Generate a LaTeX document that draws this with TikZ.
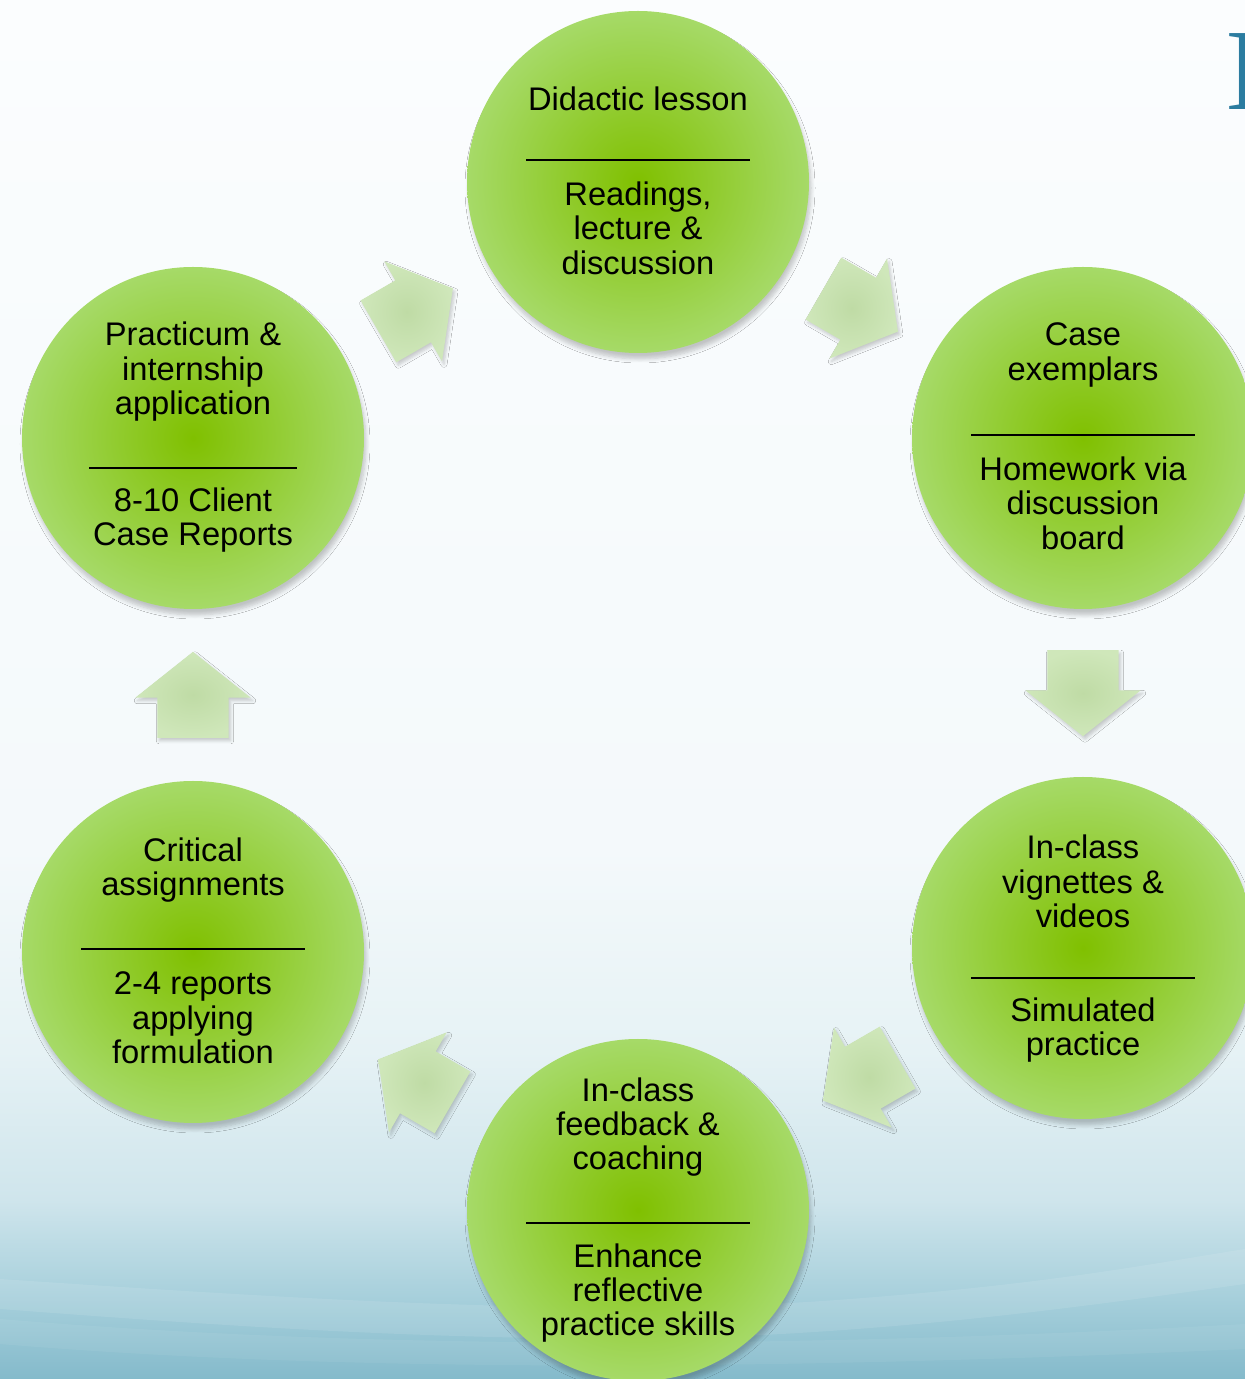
\documentclass[tikz,border=0pt]{standalone}
\usepackage{fontspec}
\setmainfont{Liberation Sans}
\newfontfamily\headserif{Liberation Serif}
\usetikzlibrary{calc, shapes.arrows, shadows.blur}

\definecolor{stagecore}{HTML}{80C000}
\definecolor{stageedge}{HTML}{A6DA68}
\definecolor{flowcore}{HTML}{BFDBA5}
\definecolor{flowedge}{HTML}{CFE7BA}
\definecolor{titleblue}{HTML}{2B7CA0}
\definecolor{bgdeep}{HTML}{84BACB}
\definecolor{bgsea}{HTML}{A6CFDB}
\definecolor{bgmist}{HTML}{CFE5EC}
\definecolor{bgpale}{HTML}{E6F2F5}
\definecolor{bgfog}{HTML}{F4F9FB}
\definecolor{bgtop}{HTML}{FBFDFE}

\pgfdeclareverticalshading{backdrop}{100bp}{color(0bp)=(bgdeep); color(25bp)=(bgdeep); color(27.9bp)=(bgsea); color(31.5bp)=(bgmist); color(36.9bp)=(bgpale); color(44.2bp)=(bgfog); color(75bp)=(bgtop); color(100bp)=(bgtop)}

\begin{document}
\begin{tikzpicture}[
    stage/.style={circle, minimum size=3.42cm, inner sep=0pt, shading=radial,
        inner color=stagecore, outer color=stageedge,
        blur shadow={shadow xshift=0.02cm, shadow yshift=-0.06cm, shadow opacity=22,
            shadow blur radius=0.04cm, shadow blur steps=6}},
    flow/.style={single arrow, minimum height=0.86cm, inner xsep=0pt, inner ysep=0.35cm,
        single arrow head extend=0.22cm, single arrow tip angle=103, shading=radial,
        inner color=flowcore, outer color=flowedge,
        blur shadow={shadow xshift=0.02cm, shadow yshift=-0.03cm, shadow opacity=20,
            shadow blur radius=0.03cm, shadow blur steps=5}},
    words/.style={align=center, text=black, font=\fontsize{9.3}{9.8}\selectfont},
    divider/.style={line width=0.8pt, black}
]
    % backdrop
    \shade[shading=backdrop] (0,0) rectangle (12.45,13.79);
    \fill[white, opacity=0.1] (0,1.0) .. controls (3,0.8) and (6,0.6) .. (8.5,0.8) .. controls (10.5,0.95) and (11.5,1.15) .. (12.45,1.3)
        -- (12.45,0.95) .. controls (11,0.75) and (9,0.45) .. (6.5,0.4) .. controls (4,0.4) and (2,0.55) .. (0,0.7) -- cycle;
    \fill[white, opacity=0.06] (0,0.6) .. controls (3,0.35) and (7,0.25) .. (12.45,0.55) -- (12.45,0.3) .. controls (7,0.05) and (3,0.1) .. (0,0.35) -- cycle;
    \useasboundingbox (0,0) rectangle (12.45,13.79);

    \node[anchor=base west, inner sep=0pt, text=titleblue, font=\headserif\fontsize{33}{33}\selectfont] (title) at (12.25,12.69) {I};

    % the six stages
    \node[stage] (didactic) at (6.38,11.97) {};
    \node[stage] (exemplar) at (10.83,9.41) {};
    \node[stage] (vignette) at (10.83,4.31) {};
    \node[stage] (feedback) at (6.38,1.69) {};
    \node[stage] (critical) at (1.93,4.27) {};
    \node[stage] (practicum) at (1.93,9.41) {};

    \node[words] (didactic top) at ($(didactic)+(0,0.83)$) {Didactic lesson};
    \draw[divider] ($(didactic)+(-1.12,0.22)$) -- ++(2.24,0);
    \node[words] (didactic bottom) at ($(didactic)+(0,-0.46)$) {Readings,\\lecture \&\\discussion};

    \node[words] (exemplar top) at ($(exemplar)+(0,0.83)$) {Case\\exemplars};
    \draw[divider] ($(exemplar)+(-1.12,0.03)$) -- ++(2.24,0);
    \node[words] (exemplar bottom) at ($(exemplar)+(0,-0.65)$) {Homework via\\discussion\\board};

    \node[words] (vignette top) at ($(vignette)+(0,0.665)$) {In-class\\vignettes \&\\videos};
    \draw[divider] ($(vignette)+(-1.12,-0.30)$) -- ++(2.24,0);
    \node[words] (vignette bottom) at ($(vignette)+(0,-0.82)$) {Simulated\\practice};

    \node[words] (feedback top) at ($(feedback)+(0,0.83)$) {In-class\\feedback \&\\coaching};
    \draw[divider] ($(feedback)+(-1.12,-0.13)$) -- ++(2.24,0);
    \node[words] (feedback bottom) at ($(feedback)+(0,-0.83)$) {Enhance\\reflective\\practice skills};

    \node[words] (critical top) at ($(critical)+(0,0.82)$) {Critical\\assignments};
    \draw[divider] ($(critical)+(-1.12,0.03)$) -- ++(2.24,0);
    \node[words] (critical bottom) at ($(critical)+(0,-0.66)$) {2-4 reports\\applying\\formulation};

    \node[words] (practicum top) at ($(practicum)+(0,0.66)$) {Practicum \&\\internship\\application};
    \draw[divider] ($(practicum)+(-1.04,-0.30)$) -- ++(2.08,0);
    \node[words] (practicum bottom) at ($(practicum)+(0,-0.82)$) {8-10 Client\\Case Reports};

    % block arrows round the cycle
    \node[flow, rotate=-30, xshift=-0.14cm] (step 1) at ($(didactic)!0.5!(exemplar)$) {};
    \node[flow, rotate=-90, xshift=-0.14cm] (step 2) at ($(exemplar)!0.5!(vignette)$) {};
    \node[flow, rotate=210, xshift=-0.14cm] (step 3) at ($(vignette)!0.5!(feedback)$) {};
    \node[flow, rotate=150, xshift=-0.14cm] (step 4) at ($(feedback)!0.5!(critical)$) {};
    \node[flow, rotate=90, xshift=-0.14cm] (step 5) at ($(critical)!0.5!(practicum)$) {};
    \node[flow, rotate=30, xshift=-0.14cm] (step 6) at ($(practicum)!0.5!(didactic)$) {};
\end{tikzpicture}
\end{document}
